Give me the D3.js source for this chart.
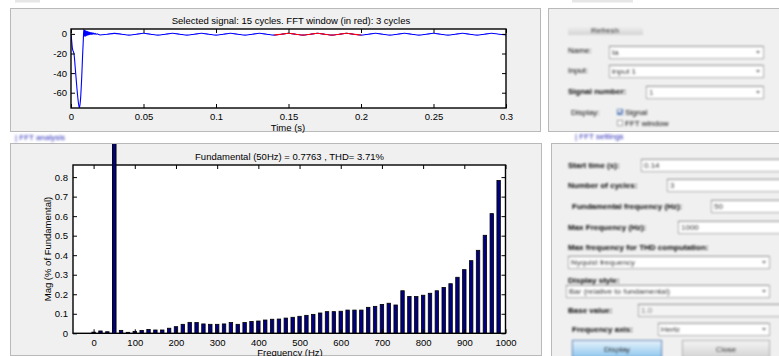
<!DOCTYPE html>
<html>
<head>
<meta charset="utf-8">
<script src="https://cdn.jsdelivr.net/npm/d3@7"></script>
<style>
  body { margin: 0; background: #ffffff; }
  svg { display: block; font-family: "Liberation Sans", Arial, sans-serif; }
</style>
</head>
<body>
<svg id="chart" width="779" height="356"></svg>
<script>
// ---- Time-domain signal (s, value) ----
const sigTime = [
  0, 0.0004, 0.0009, 0.0013, 0.0017, 0.0022, 0.003, 0.004, 0.005, 0.0058,
  0.0066, 0.0074, 0.008, 0.0085, 0.0088, 0.0091, 0.0094, 0.0097, 0.01, 0.0103,
  0.0106, 0.0109, 0.0112, 0.0115, 0.0118, 0.0121, 0.0124, 0.0127, 0.013, 0.0134,
  0.0138, 0.0142, 0.0146, 0.015, 0.0155, 0.016, 0.0166, 0.0172, 0.018, 0.019,
  0.02, 0.025, 0.03, 0.035, 0.04, 0.045, 0.05, 0.055, 0.06, 0.065,
  0.07, 0.075, 0.08, 0.085, 0.09, 0.095, 0.1, 0.105, 0.11, 0.115,
  0.12, 0.125, 0.13, 0.135, 0.14, 0.145, 0.15, 0.155, 0.16, 0.165,
  0.17, 0.175, 0.18, 0.185, 0.19, 0.195, 0.2, 0.205, 0.21, 0.215,
  0.22, 0.225, 0.23, 0.235, 0.24, 0.245, 0.25, 0.255, 0.26, 0.265,
  0.27, 0.275, 0.28, 0.285, 0.29, 0.295, 0.3
];
const sigValue = [
  0, -6, -14, -17, -18, -22, -36, -54, -69, -75.6,
  -66, -44, -22, -6, 4.5, -2, 4, -2.5, 3.5, -2,
  3, -1.5, 2.6, -1.3, 2.2, -1, 2, -0.8, 1.7, -0.6,
  1.4, -0.5, 1.1, -0.4, 0.9, -0.4, 0.6, -0.5, 0.2, -0.6,
  -1.1, -0.3, 0.5, -0.3, -1.2, -0.3, 0.6, -0.3, -1.2, -0.3,
  0.6, -0.3, -1.2, -0.3, 0.6, -0.3, -1.2, -0.3, 0.6, -0.3,
  -1.2, -0.3, 0.6, -0.3, -1.2, -0.3, 0.6, -0.3, -1.2, -0.3,
  0.6, -0.3, -1.2, -0.3, 0.6, -0.3, -1.2, -0.3, 0.6, -0.3,
  -1.2, -0.3, 0.6, -0.3, -1.2, -0.3, 0.6, -0.3, -1.2, -0.3,
  0.6, -0.3, -1.2, -0.3, 0.6, -0.3, -1.1
];
const fftWindow = [0.14, 0.2];
const timeTicks = [0, 0.05, 0.1, 0.15, 0.2, 0.25, 0.3];
const timeTickLabels = ["0", "0.05", "0.1", "0.15", "0.2", "0.25", "0.3"];
const valueTicks = [0, -20, -40, -60];
const valueTickLabels = ["0", "-20", "-40", "-60"];

// ---- Harmonic spectrum (Hz, % of fundamental) ----
const harmonicFreq = [
  0, 16.67, 33.33, 50, 66.67, 83.33, 100, 116.67, 133.33, 150,
  166.67, 183.33, 200, 216.67, 233.33, 250, 266.67, 283.33, 300, 316.67,
  333.33, 350, 366.67, 383.33, 400, 416.67, 433.33, 450, 466.67, 483.33,
  500, 516.67, 533.33, 550, 566.67, 583.33, 600, 616.67, 633.33, 650,
  666.67, 683.33, 700, 716.67, 733.33, 750, 766.67, 783.33, 800, 816.67,
  833.33, 850, 866.67, 883.33, 900, 916.67, 933.33, 950, 966.67, 983.33
];
const harmonicMag = [
  0.006, 0.012, 0.008, 100, 0.015, 0.005, 0.010, 0.015, 0.020, 0.017,
  0.017, 0.026, 0.034, 0.046, 0.056, 0.055, 0.048, 0.046, 0.046, 0.048,
  0.055, 0.046, 0.055, 0.061, 0.063, 0.068, 0.072, 0.073, 0.078, 0.082,
  0.087, 0.092, 0.097, 0.104, 0.111, 0.111, 0.113, 0.119, 0.119, 0.119,
  0.133, 0.138, 0.148, 0.154, 0.145, 0.218, 0.189, 0.188, 0.195, 0.205,
  0.218, 0.235, 0.254, 0.287, 0.326, 0.372, 0.425, 0.502, 0.613, 0.783
];
const binWidth = 16.67;
const freqTicks = [0, 100, 200, 300, 400, 500, 600, 700, 800, 900, 1000];
const freqTickLabels = ["0", "100", "200", "300", "400", "500", "600", "700", "800", "900", "1000"];
const magTicks = [0, 0.1, 0.2, 0.3, 0.4, 0.5, 0.6, 0.7, 0.8];
const magTickLabels = ["0", "0.1", "0.2", "0.3", "0.4", "0.5", "0.6", "0.7", "0.8"];

const FONT = 9.5;
const svg = d3.select("#chart");
const defs = svg.append("defs");
defs.append("filter").attr("id", "soft")
  .attr("filterUnits", "userSpaceOnUse").attr("x", 0).attr("y", 0).attr("width", 779).attr("height", 356)
  .append("feGaussianBlur").attr("stdDeviation", 0.9);

// ---- window panels ----
const panelFill = "#f0f0f0", panelStroke = "#b9b9b9";
function panel(x, y, w, h) {
  svg.append("rect").attr("x", x + 0.5).attr("y", y + 0.5).attr("width", w).attr("height", h)
    .attr("fill", panelFill).attr("stroke", panelStroke);
}
panel(10, 8, 530, 123);
panel(548, 8, 240, 123);
panel(10, 143, 531, 212);
panel(551, 143, 240, 220);
svg.append("rect").attr("x", 15).attr("y", 0).attr("width", 25).attr("height", 2.5).attr("fill", "#e6e6e6");
svg.append("rect").attr("x", 572).attr("y", 0).attr("width", 61).attr("height", 2.5).attr("fill", "#e6e6e6");

// panel captions
const caps = svg.append("g").attr("filter", "url(#soft)").attr("font-size", 8).attr("fill", "#2a2ab8");
caps.append("text").attr("x", 15).attr("y", 140).text("| FFT analysis");
caps.append("text").attr("x", 575).attr("y", 139).text("| FFT settings");

// ---- signal plot ----
const tx = d3.scaleLinear().domain([0, 0.3]).range([71, 506]);
const ty = d3.scaleLinear().domain([-75.6, 5]).range([108, 29]);
const sigPlot = svg.append("g");
sigPlot.append("rect").attr("x", tx.range()[0]).attr("y", ty.range()[1])
  .attr("width", tx.range()[1] - tx.range()[0]).attr("height", ty.range()[0] - ty.range()[1])
  .attr("fill", "#fff");
defs.append("clipPath").attr("id", "clipTop").append("rect")
  .attr("x", tx.range()[0]).attr("y", ty.range()[1])
  .attr("width", tx.range()[1] - tx.range()[0]).attr("height", ty.range()[0] - ty.range()[1]);

const sig = sigTime.map((t, i) => ({ t, v: sigValue[i] }));
const line = d3.line().x(d => tx(d.t)).y(d => ty(d.v)).curve(d3.curveMonotoneX);
const traces = sigPlot.append("g").attr("clip-path", "url(#clipTop)");
traces.append("path").datum(sig).attr("d", line)
  .attr("fill", "none").attr("stroke", "#0000ff").attr("stroke-width", 1.1);
traces.append("path").datum(sig.filter(d => d.t >= fftWindow[0] - 1e-9 && d.t <= fftWindow[1] + 1e-9))
  .attr("d", line).attr("fill", "none").attr("stroke", "#ff0000").attr("stroke-width", 1.1);

function styleAxis(g) {
  g.select(".domain").remove();
  g.selectAll(".tick line").attr("stroke", "#000");
  g.selectAll("text").attr("font-size", FONT).attr("fill", "#000")
    .attr("font-family", "'Liberation Sans', Arial, sans-serif");
}
const tLab = d => timeTickLabels[timeTicks.indexOf(d)];
sigPlot.append("g").attr("transform", `translate(0,${ty.range()[0]})`)
  .call(d3.axisBottom(tx).tickValues(timeTicks).tickFormat(tLab).tickSizeInner(-4).tickSizeOuter(0).tickPadding(5.5))
  .call(styleAxis);
sigPlot.append("g").attr("transform", `translate(0,${ty.range()[1]})`)
  .call(d3.axisTop(tx).tickValues(timeTicks).tickFormat("").tickSizeInner(-4).tickSizeOuter(0))
  .call(styleAxis);
const vLab = d => valueTickLabels[valueTicks.indexOf(d)];
sigPlot.append("g").attr("transform", `translate(${tx.range()[0]},0)`)
  .call(d3.axisLeft(ty).tickValues(valueTicks).tickFormat(vLab).tickSizeInner(-4).tickSizeOuter(0).tickPadding(4))
  .call(styleAxis);
sigPlot.append("g").attr("transform", `translate(${tx.range()[1]},0)`)
  .call(d3.axisRight(ty).tickValues(valueTicks).tickFormat("").tickSizeInner(-4).tickSizeOuter(0))
  .call(styleAxis);
sigPlot.append("rect").attr("x", tx.range()[0]).attr("y", ty.range()[1])
  .attr("width", tx.range()[1] - tx.range()[0]).attr("height", ty.range()[0] - ty.range()[1])
  .attr("fill", "none").attr("stroke", "#000").attr("stroke-width", 1.4);
sigPlot.append("text").attr("x", 291).attr("y", 23.5).attr("text-anchor", "middle").attr("font-size", FONT)
  .text("Selected signal: 15 cycles. FFT window (in red): 3 cycles");
sigPlot.append("text").attr("x", 288).attr("y", 131).attr("text-anchor", "middle").attr("font-size", FONT)
  .text("Time (s)");

// ---- spectrum plot ----
const fx = d3.scaleLinear().domain([-50, 1000]).range([73, 505.5]);
const fy = d3.scaleLinear().domain([0, 0.862]).range([333.3, 165]);
const specPlot = svg.append("g");
defs.append("clipPath").attr("id", "clipPanel").append("rect")
  .attr("x", 11).attr("y", 144).attr("width", 530).attr("height", 212);
const specIn = specPlot.append("g").attr("clip-path", "url(#clipPanel)");
specIn.append("rect").attr("x", fx.range()[0]).attr("y", fy.range()[1])
  .attr("width", fx.range()[1] - fx.range()[0]).attr("height", fy.range()[0] - fy.range()[1])
  .attr("fill", "#fff");
const bw = fx(binWidth * 0.5) - fx(0);
const bins = harmonicFreq.map((f, i) => ({ f, v: harmonicMag[i] }));
specIn.append("g").selectAll("rect").data(bins)
  .join("rect")
  .attr("x", d => fx(d.f) - bw / 2)
  .attr("y", d => fy(d.v))
  .attr("width", bw)
  .attr("height", d => fy(0) - fy(d.v))
  .attr("fill", "#000080").attr("stroke", "#000").attr("stroke-width", 0.8);

const fLab = d => freqTickLabels[freqTicks.indexOf(d)];
const mLab = d => magTickLabels[magTicks.indexOf(d)];
specIn.append("g").attr("transform", `translate(0,${fy.range()[0]})`)
  .call(d3.axisBottom(fx).tickValues(freqTicks).tickFormat(fLab).tickSizeInner(-4).tickSizeOuter(0).tickPadding(6))
  .call(styleAxis);
specIn.append("g").attr("transform", `translate(0,${fy.range()[1]})`)
  .call(d3.axisTop(fx).tickValues(freqTicks).tickFormat("").tickSizeInner(-4).tickSizeOuter(0))
  .call(styleAxis);
specIn.append("g").attr("transform", `translate(${fx.range()[0]},0)`)
  .call(d3.axisLeft(fy).tickValues(magTicks).tickFormat(mLab).tickSizeInner(-4).tickSizeOuter(0).tickPadding(5))
  .call(styleAxis);
specIn.append("g").attr("transform", `translate(${fx.range()[1]},0)`)
  .call(d3.axisRight(fy).tickValues(magTicks).tickFormat("").tickSizeInner(-4).tickSizeOuter(0))
  .call(styleAxis);
specIn.append("rect").attr("x", fx.range()[0]).attr("y", fy.range()[1])
  .attr("width", fx.range()[1] - fx.range()[0]).attr("height", fy.range()[0] - fy.range()[1])
  .attr("fill", "none").attr("stroke", "#000").attr("stroke-width", 1.4);
// the fundamental runs off the top of the axes and is drawn over the frame
specIn.append("g").selectAll("rect").data(bins.filter(d => d.v > fy.domain()[1])).join("rect")
  .attr("x", d => fx(d.f) - bw / 2).attr("y", d => fy(d.v))
  .attr("width", bw).attr("height", d => fy(0) - fy(d.v))
  .attr("fill", "#000080").attr("stroke", "#000").attr("stroke-width", 0.8);

specIn.append("text").attr("x", 289.5).attr("y", 159.5).attr("text-anchor", "middle").attr("font-size", FONT)
  .text("Fundamental (50Hz) = 0.7763 , THD= 3.71%");
specIn.append("text").attr("transform", "translate(51,249) rotate(-90)").attr("text-anchor", "middle")
  .attr("font-size", FONT).text("Mag (% of Fundamental)");
specIn.append("text").attr("x", 290).attr("y", 355.5).attr("text-anchor", "middle").attr("font-size", FONT)
  .text("Frequency (Hz)");

// ---- settings controls ----
const ui = svg.append("g").attr("filter", "url(#soft)").attr("font-size", 8).attr("fill", "#000");
function label(x, y, s, weight) {
  ui.append("text").attr("x", x).attr("y", y).attr("font-weight", weight || "normal").text(s);
}
function field(x, y, w, h, s, arrow, disabled) {
  ui.append("rect").attr("x", x + 0.5).attr("y", y + 0.5).attr("width", w).attr("height", h)
    .attr("fill", disabled ? "#f4f4f4" : "#fff").attr("stroke", "#a5a5a5");
  ui.append("line").attr("x1", x).attr("x2", x + w).attr("y1", y + 0.5).attr("y2", y + 0.5)
    .attr("stroke", "#707070");
  ui.append("text").attr("x", x + 3).attr("y", y + h - 3).attr("fill", disabled ? "#666" : "#000").text(s);
  if (arrow) {
    const ax = x + w - 5, ay = y + h / 2;
    ui.append("path").attr("d", `M${ax - 2},${ay - 1}L${ax + 2},${ay - 1}L${ax},${ay + 1.5}Z`).attr("fill", "#111");
  }
}
// signal selection
const grad = defs.append("linearGradient").attr("id", "btn").attr("x1", 0).attr("x2", 0).attr("y1", 0).attr("y2", 1);
grad.append("stop").attr("offset", "0%").attr("stop-color", "#f4f4f4");
grad.append("stop").attr("offset", "100%").attr("stop-color", "#d4d4d4");
ui.append("rect").attr("x", 568).attr("y", 25).attr("width", 75).attr("height", 10).attr("fill", "url(#btn)");
ui.append("text").attr("x", 605).attr("y", 32.5).attr("text-anchor", "middle").text("Refresh");
label(568, 53, "Name:");
field(609, 46, 154, 12, "Ia", true);
label(568, 73, "Input:");
field(609, 65, 154, 12, "input 1", true);
label(568, 94, "Signal number:", "bold");
field(646, 86, 117, 12, "1", true);
label(571, 115, "Display:");
ui.append("rect").attr("x", 617.5).attr("y", 109.5).attr("width", 5).attr("height", 5).attr("fill", "#fff").attr("stroke", "#4a7fbf");
ui.append("path").attr("d", "M618,112L620,114L622.5,110").attr("fill", "none").attr("stroke", "#2456a8").attr("stroke-width", 1.2);
label(625, 115, "Signal");
ui.append("rect").attr("x", 617.5).attr("y", 120.5).attr("width", 5).attr("height", 5).attr("fill", "#fff").attr("stroke", "#999");
label(625, 126, "FFT window");

// FFT settings
label(568, 168, "Start time (s):", "bold");
field(641, 159, 150, 12, "0.14");
label(568, 188, "Number of cycles:", "bold");
field(667, 179, 130, 12, "3");
label(572, 209, "Fundamental frequency (Hz):", "bold");
field(711, 200, 90, 12, "50");
label(568, 230, "Max Frequency (Hz):", "bold");
field(678, 221, 110, 12, "1000");
label(568, 250, "Max frequency for THD computation:", "bold");
field(568, 256, 201, 12, "Nyquist frequency", true);
label(568, 283, "Display style:", "bold");
field(566, 285, 203, 12, "Bar (relative to fundamental)", true);
label(568, 313, "Base value:", "bold");
field(638, 304, 150, 12, "1.0", false, true);
label(572, 332, "Frequency axis:", "bold");
field(658, 323, 111, 12, "Hertz", true);
const blueBtn = defs.append("linearGradient").attr("id", "btnBlue").attr("x1", 0).attr("x2", 0).attr("y1", 0).attr("y2", 1);
blueBtn.append("stop").attr("offset", "0%").attr("stop-color", "#e6f2fb");
blueBtn.append("stop").attr("offset", "100%").attr("stop-color", "#8ec6ee");
ui.append("rect").attr("x", 572.5).attr("y", 340.5).attr("width", 89).attr("height", 17).attr("fill", "url(#btnBlue)").attr("stroke", "#2f6fb0");
ui.append("text").attr("x", 617).attr("y", 352).attr("text-anchor", "middle").text("Display");
ui.append("rect").attr("x", 682.5).attr("y", 340.5).attr("width", 87).attr("height", 17).attr("fill", "url(#btn)").attr("stroke", "#aaa");
ui.append("text").attr("x", 726).attr("y", 352).attr("text-anchor", "middle").text("Close");
</script>
</body>
</html>
